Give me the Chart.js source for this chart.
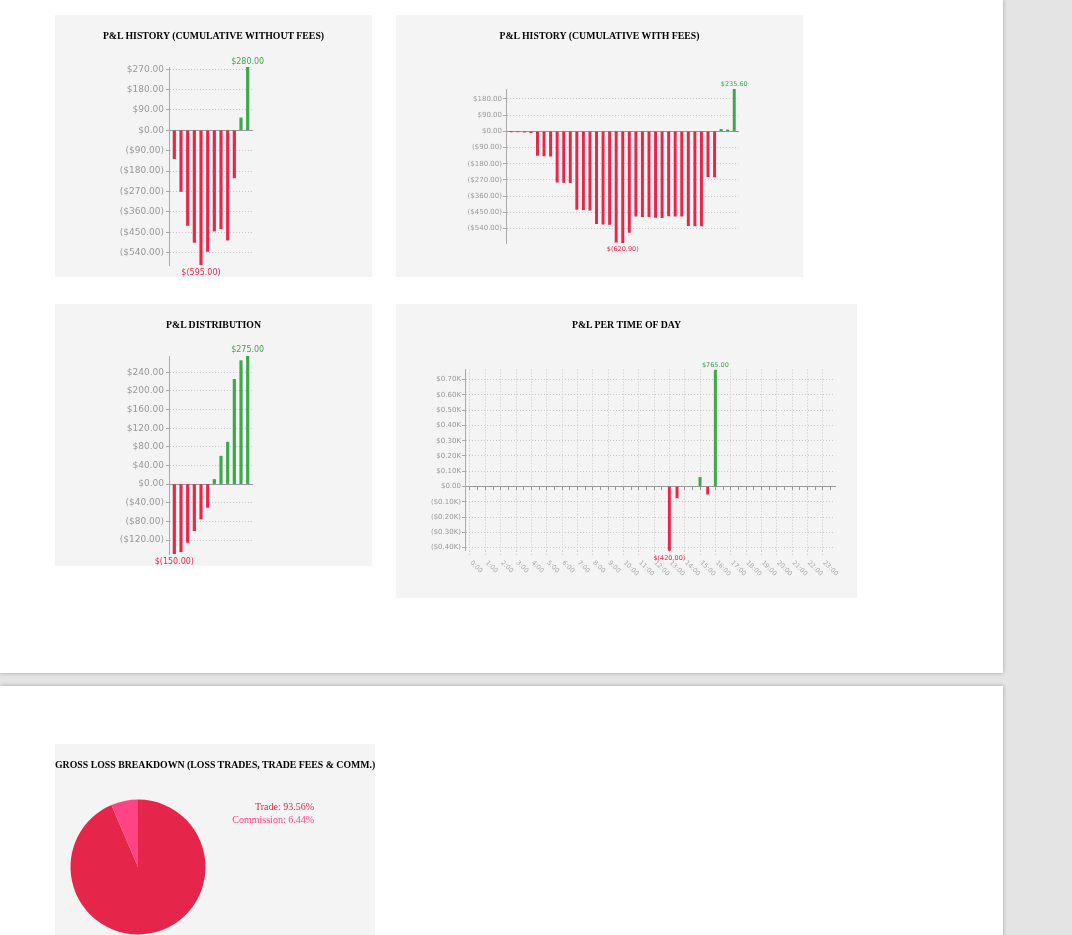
<!DOCTYPE html>
<html>
<head>
<meta charset="utf-8">
<script src="https://cdn.jsdelivr.net/npm/chart.js@4.4.1/dist/chart.umd.min.js"></script>
<style>
  html, body { margin: 0; padding: 0; overflow: hidden; width: 1072px; height: 935px; background: #e4e4e4; }
  .sheet { position: absolute; left: 0; width: 1003px; background: #fff; box-shadow: 0 0 4px rgba(0,0,0,0.3); }
  .panel { position: absolute; background: #f4f4f4; overflow: hidden; }
  .panel canvas { position: absolute; left: 0; top: 0; }
  .title { position: absolute; left: 0; right: 0; top: 15px; height: 12px; line-height: 12px; text-align: center;
           font: bold 9.8px "Liberation Serif", serif; color: #000; white-space: nowrap; }
</style>
</head>
<body>
<div class="sheet" style="top:0;height:673px"></div>
<div class="sheet" style="top:686px;height:400px"></div>

<div class="panel" style="left:55px;top:15px;width:317px;height:262px">
  <canvas id="historyChart" width="317" height="262"></canvas>
  <div class="title">P&amp;L HISTORY (CUMULATIVE WITHOUT FEES)</div>
</div>
<div class="panel" style="left:396px;top:15px;width:407px;height:262px">
  <canvas id="historyFeesChart" width="407" height="262"></canvas>
  <div class="title">P&amp;L HISTORY (CUMULATIVE WITH FEES)</div>
</div>
<div class="panel" style="left:55px;top:304px;width:317px;height:262px">
  <canvas id="distributionChart" width="317" height="262"></canvas>
  <div class="title">P&amp;L DISTRIBUTION</div>
</div>
<div class="panel" style="left:396px;top:304px;width:461px;height:294px">
  <canvas id="timeOfDayChart" width="461" height="294"></canvas>
  <div class="title">P&amp;L PER TIME OF DAY</div>
</div>
<div class="panel" style="left:55px;top:744px;width:320px;height:260px">
  <canvas id="lossChart" width="320" height="260"></canvas>
  <div class="title" style="top:15px">GROSS LOSS BREAKDOWN (LOSS TRADES, TRADE FEES &amp; COMM.)</div>
</div>

<script>
// trade sequence numbers
const trades = [1, 2, 3, 4, 5, 6, 7, 8, 9, 10, 11, 12]
const cumWithoutFees = [-125, -270, -420, -495, -595, -535, -445, -435, -485, -210, 55, 280]

// fee and trade events
const events = [1, 2, 3, 4, 5, 6, 7, 8, 9, 10, 11, 12, 13, 14, 15, 16, 17, 18, 19, 20,
  21, 22, 23, 24, 25, 26, 27, 28, 29, 30, 31, 32, 33, 34, 35]
const cumWithFees = [-1, -2, -5, -7, -134, -136, -138, -282, -284, -286, -434, -436, -438,
  -514, -516, -518, -616, -620.9, -562, -472, -474, -474, -478, -480, -470, -472, -472,
  -524, -526, -526, -252, -254, 11, 9, 235.6]

// P&L per trade, sorted
const pnlSorted = [-150, -145, -125, -100, -75, -50, 10, 60, 90, 225, 265, 275]

// P&L per time of day
const hours = [13, 13.5, 15, 15.5, 16]
const hourPnl = [-420, -75, 60, -50, 765]
const hourLabels = ["0:00", "1:00", "2:00", "3:00", "4:00", "5:00", "6:00", "7:00", "8:00", "9:00",
  "10:00", "11:00", "12:00", "13:00", "14:00", "15:00", "16:00", "17:00", "18:00", "19:00",
  "20:00", "21:00", "22:00", "23:00"]

// gross loss breakdown
const lossParts = ["Trade", "Commission"]
const lossShare = [93.56, 6.44]

const red = "#e8264a"
const green = "#3ca84b"

const money = (v) => (v < 0 ? "($" + Math.abs(v).toFixed(2) + ")" : "$" + v.toFixed(2))
const barMoney = (v) => (v < 0 ? "$(" + Math.abs(v).toFixed(2) + ")" : "$" + v.toFixed(2))
const kMoney = (v) => {
  if (v === 0) return "$0.00"
  const k = (Math.abs(v) / 1000).toFixed(2) + "K"
  return v < 0 ? "($" + k + ")" : "$" + k
}

// max / min value labels
const extremes = {
  id: "extremes",
  afterDatasetsDraw(chart, args, opts) {
    const values = chart.data.datasets[0].data
    const bars = chart.getDatasetMeta(0).data
    const hi = values.indexOf(Math.max(...values))
    const lo = values.indexOf(Math.min(...values))
    const ctx = chart.ctx
    ctx.save()
    ctx.font = opts.size + 'px "DejaVu Sans"'
    ctx.textAlign = "center"
    ctx.textBaseline = "middle"
    ctx.fillStyle = green
    ctx.fillText(barMoney(values[hi]), bars[hi].x, bars[hi].y - opts.up)
    ctx.fillStyle = red
    ctx.fillText(barMoney(values[lo]), bars[lo].x, bars[lo].y + opts.down)
    ctx.restore()
  },
}

function barChart(id, labels, values, o) {
  return new Chart(document.getElementById(id), {
    type: "bar",
    data: {
      labels: labels,
      datasets: [
        {
          data: values,
          backgroundColor: (c) => (c.raw < 0 ? red : green),
          barThickness: o.bar,
        },
      ],
    },
    options: {
      responsive: false,
      animation: false,
      layout: { padding: o.pad },
      plugins: {
        legend: { display: false },
        tooltip: { enabled: false },
        extremes: o.labels,
      },
      scales: {
        x: {
          type: "linear",
          min: labels[0] - 0.8,
          max: labels[labels.length - 1] + 0.65,
          offset: false,
          position: { y: 0 },
          grid: { display: false },
          ticks: { display: false },
          border: { color: "#999" },
        },
        y: {
          min: Math.min(...values),
          max: Math.max(...values),
          afterFit: (s) => {
            s.width = o.axisW
          },
          ticks: {
            stepSize: o.step,
            includeBounds: false,
            callback: money,
            color: "#999",
            padding: o.tickPad,
            font: { family: "DejaVu Sans", size: o.font },
          },
          grid: { color: "#c8c8c8", tickColor: "#aaa", tickLength: 3, tickBorderDash: [] },
          border: { color: "#aaa", dash: [1, 2] },
        },
      },
    },
    plugins: [extremes],
  })
}

barChart("historyChart", trades, cumWithoutFees, {
  bar: 2.5, step: 90, font: 9, tickPad: 2, axisW: 114,
  pad: { left: 0, right: 120, top: 52, bottom: 12 },
  labels: { size: 8, up: 5.5, down: 8 },
})

barChart("historyFeesChart", events, cumWithFees, {
  bar: 2.3, step: 90, font: 7, tickPad: 1, axisW: 110,
  pad: { left: 0, right: 64.5, top: 74, bottom: 34 },
  labels: { size: 6.5, up: 4.3, down: 6.3 },
})

barChart("distributionChart", trades, pnlSorted, {
  bar: 2.5, step: 40, font: 9, tickPad: 2, axisW: 114,
  pad: { left: 0, right: 120, top: 52, bottom: 12 },
  labels: { size: 8, up: 5.7, down: 8.3 },
})

// rotated hour labels under the time of day chart
const hourTicks = {
  id: "hourTicks",
  afterDraw(chart) {
    const x = chart.scales.x
    const ctx = chart.ctx
    const y0 = chart.chartArea.bottom + 11
    ctx.save()
    ctx.font = '6.5px "DejaVu Sans"'
    ctx.fillStyle = "#aaa"
    ctx.textAlign = "left"
    ctx.textBaseline = "middle"
    hourLabels.forEach((t, h) => {
      ctx.save()
      ctx.translate(x.getPixelForValue(h) + 1, y0)
      ctx.rotate(Math.PI / 4)
      ctx.fillText(t, 0, 0)
      ctx.restore()
    })
    ctx.restore()
  },
}

new Chart(document.getElementById("timeOfDayChart"), {
  type: "bar",
  data: {
    labels: hours,
    datasets: [
      {
        data: hourPnl,
        backgroundColor: (c) => (c.raw < 0 ? red : green),
        barThickness: 2.3,
      },
    ],
  },
  options: {
    responsive: false,
    animation: false,
    layout: { padding: { left: 0, right: 21.7, top: 65.7, bottom: 47.3 } },
    plugins: {
      legend: { display: false },
      tooltip: { enabled: false },
      extremes: { size: 6.5, up: 4.7, down: 8 },
    },
    scales: {
      x: {
        type: "linear",
        min: -0.326,
        max: 23.82,
        offset: false,
        position: "bottom",
        afterFit: (s) => {
          s.height = 0
        },
        ticks: { display: false, stepSize: 1, includeBounds: false, autoSkip: false },
        grid: { offset: false, color: "#c8c8c8", tickLength: 6, tickBorderDash: [1, 2] },
        border: { display: false, dash: [1, 2] },
      },
      x0: {
        type: "linear",
        min: -0.326,
        max: 23.82,
        offset: false,
        position: { y: 0 },
        ticks: { display: false, stepSize: 0.5, includeBounds: false, autoSkip: false },
        grid: { offset: false, drawOnChartArea: false, color: "#999", tickLength: 3 },
        border: { color: "#999" },
      },
      y: {
        min: -420,
        max: 765,
        afterFit: (s) => {
          s.width = 69
        },
        ticks: {
          stepSize: 100,
          includeBounds: false,
          callback: kMoney,
          color: "#999",
          padding: 1,
          font: { family: "DejaVu Sans", size: 7 },
        },
        grid: { color: "#c8c8c8", tickColor: "#aaa", tickLength: 3, tickBorderDash: [] },
        border: { color: "#aaa", dash: [1, 2] },
      },
    },
  },
  plugins: [extremes, hourTicks],
})

// coloured text legend next to the pie
const lossLegend = {
  id: "lossLegend",
  afterDraw(chart, args, opts) {
    const ds = chart.data.datasets[0]
    const ctx = chart.ctx
    ctx.save()
    ctx.font = '10px "Liberation Serif"'
    ctx.textAlign = "right"
    ctx.textBaseline = "middle"
    chart.data.labels.forEach((label, i) => {
      ctx.fillStyle = ds.backgroundColor[i]
      ctx.fillText(label + ": " + ds.data[i].toFixed(2) + "%", opts.x, opts.y + i * opts.step)
    })
    ctx.restore()
  },
}

new Chart(document.getElementById("lossChart"), {
  type: "pie",
  data: {
    labels: lossParts,
    datasets: [
      {
        data: lossShare,
        backgroundColor: ["#e5264a", "#ff4486"],
        borderWidth: 0,
      },
    ],
  },
  options: {
    responsive: false,
    animation: false,
    layout: { padding: { left: 15.5, right: 169.5, top: 55.5, bottom: 69.5 } },
    plugins: {
      legend: { display: false },
      tooltip: { enabled: false },
      lossLegend: { x: 259, y: 63.7, step: 13 },
    },
  },
  plugins: [lossLegend],
})
</script>
</body>
</html>
